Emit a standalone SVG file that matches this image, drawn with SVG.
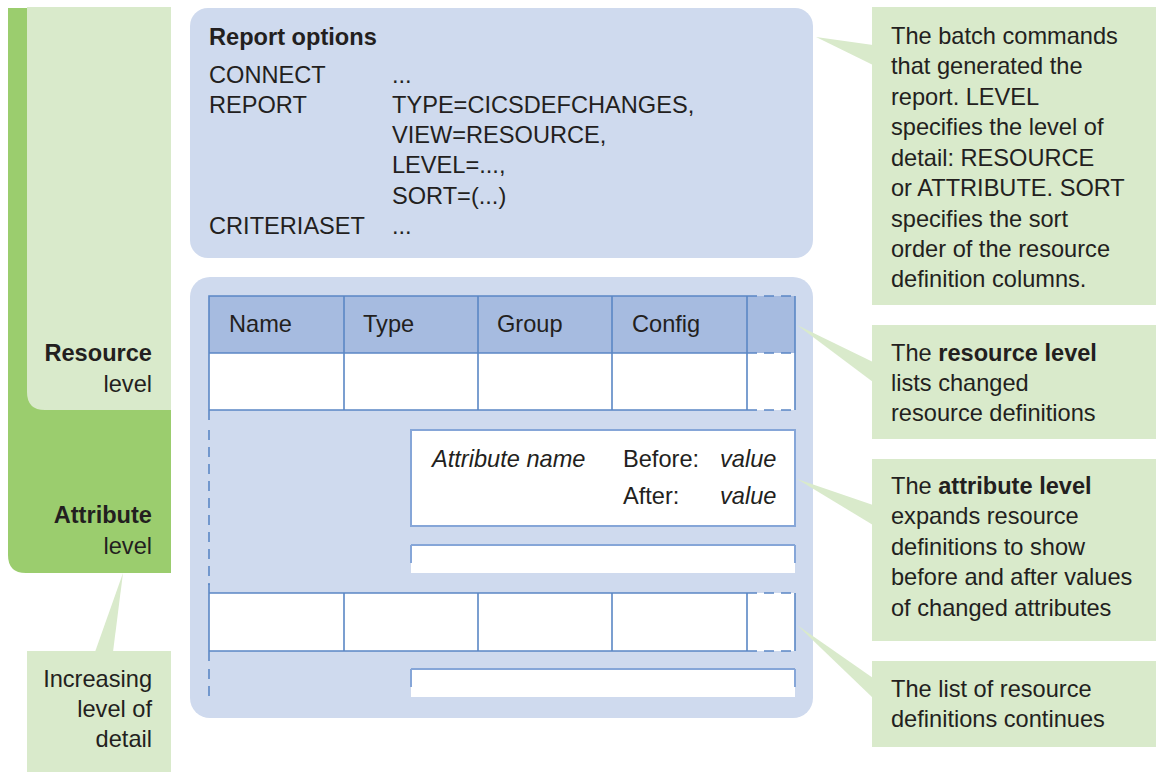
<svg xmlns="http://www.w3.org/2000/svg" width="1156" height="772" viewBox="0 0 1156 772">
<style>
text{font-family:"Liberation Sans",Arial,sans-serif;font-size:23.6px;fill:#231f20}
.b{font-weight:bold}
.i{font-style:italic}
.e{text-anchor:end}
.lg{fill:#d9eacb}
.dg{fill:#9bcd6e}
.pan{fill:#cfdaee}
.hdr{fill:#a6bbe0}
.ln{stroke:#5b87c5;stroke-width:1.6;fill:none}
.dash{stroke:#5b87c5;stroke-width:1.6;fill:none;stroke-dasharray:10 7}
.box{fill:#fff;stroke:#86a6d8;stroke-width:2}
</style>
<rect width="1156" height="772" fill="#fff"/>

<g id="levels">
<path class="dg" d="M8 8 H171 V573 H26 Q8 573 8 555 Z"/>
<path class="lg" d="M27 7 H171 V410 H45 Q27 410 27 392 Z"/>
<text class="b e" x="152" y="361">Resource</text>
<text class="e" x="152" y="392">level</text>
<text class="b e" x="152" y="523">Attribute</text>
<text class="e" x="152" y="554">level</text>
</g>

<g id="increasing">
<rect class="lg" x="27" y="651" width="144" height="121"/>
<polygon class="lg" points="95,652 113,652 123,573"/>
<text class="e" x="152" y="687">Increasing</text>
<text class="e" x="152" y="717">level of</text>
<text class="e" x="152" y="747">detail</text>
</g>

<g id="report-options">
<rect class="pan" x="190" y="8" width="623" height="250" rx="18"/>
<text class="b" x="209" y="45">Report options</text>
<text x="209" y="83">CONNECT</text>
<text x="392" y="83">...</text>
<text x="209" y="113">REPORT</text>
<text x="392" y="113">TYPE=CICSDEFCHANGES,</text>
<text x="392" y="143">VIEW=RESOURCE,</text>
<text x="392" y="173">LEVEL=...,</text>
<text x="392" y="204">SORT=(...)</text>
<text x="209" y="234">CRITERIASET</text>
<text x="392" y="234">...</text>
</g>

<g id="report-table">
<rect class="pan" x="190" y="277" width="623" height="441" rx="20"/>
<!-- header -->
<rect class="hdr" x="209" y="296" width="586" height="57"/>
<rect x="209" y="353" width="586" height="57" fill="#fff"/>
<path class="ln" d="M747 296 H209 V420 M209 353 H747 M209 410 H747 M344 296 V410 M478 296 V410 M612 296 V410 M747 296 V410 M795 296 V410"/>
<path class="dash" d="M747 296 H795 M747 353 H795 M747 410 H795"/>
<text x="229" y="332">Name</text>
<text x="363" y="332">Type</text>
<text x="497" y="332">Group</text>
<text x="632" y="332">Config</text>
<path class="dash" d="M209 430 V585"/>
<!-- attribute box -->
<rect class="box" x="411" y="430" width="384" height="96"/>
<text class="i" x="432" y="467">Attribute name</text>
<text x="623" y="467">Before:</text>
<text class="i" x="720" y="467">value</text>
<text x="623" y="504">After:</text>
<text class="i" x="720" y="504">value</text>
<rect x="411" y="545" width="384" height="28" fill="#fff"/>
<path d="M411 545 H795" stroke="#86a6d8" stroke-width="2" fill="none"/>
<path d="M411 545 V563 M795 545 V563" stroke="#86a6d8" stroke-width="2" fill="none"/>
<!-- row 2 -->
<rect x="209" y="593" width="586" height="58" fill="#fff"/>
<path class="ln" d="M209 584 V661 M209 593 H747 M209 651 H747 M344 593 V651 M478 593 V651 M612 593 V651 M747 593 V651 M795 593 V651"/>
<path class="dash" d="M747 593 H795 M747 651 H795"/>
<path class="dash" d="M209 669 V698"/>
<rect x="411" y="669" width="384" height="28" fill="#fff"/>
<path d="M411 669 H795" stroke="#86a6d8" stroke-width="2" fill="none"/>
<path d="M411 669 V687 M795 669 V687" stroke="#86a6d8" stroke-width="2" fill="none"/>
</g>

<g id="callout-commands">
<polygon class="lg" points="816,37 873,45 873,65"/>
<rect class="lg" x="872" y="7" width="284" height="298"/>
<text x="891" y="44">The batch commands</text>
<text x="891" y="74">that generated the</text>
<text x="891" y="105">report. LEVEL</text>
<text x="891" y="135">specifies the level of</text>
<text x="891" y="166">detail: RESOURCE</text>
<text x="891" y="196">or ATTRIBUTE. SORT</text>
<text x="891" y="227">specifies the sort</text>
<text x="891" y="257">order of the resource</text>
<text x="891" y="287">definition columns.</text>
</g>

<g id="callout-resource">
<polygon class="lg" points="797,325 873,362 873,382"/>
<rect class="lg" x="872" y="325" width="284" height="114"/>
<text x="891" y="361">The <tspan class="b">resource level</tspan></text>
<text x="891" y="391">lists changed</text>
<text x="891" y="421">resource definitions</text>
</g>

<g id="callout-attribute">
<polygon class="lg" points="797,479 873,505 873,525"/>
<rect class="lg" x="872" y="459" width="284" height="182"/>
<text x="891" y="494">The <tspan class="b">attribute level</tspan></text>
<text x="891" y="524">expands resource</text>
<text x="891" y="555">definitions to show</text>
<text x="891" y="585">before and after values</text>
<text x="891" y="616">of changed attributes</text>
</g>

<g id="callout-continues">
<polygon class="lg" points="797,625 873,678 873,698"/>
<rect class="lg" x="872" y="661" width="284" height="86"/>
<text x="891" y="697">The list of resource</text>
<text x="891" y="727">definitions continues</text>
</g>

<g id="connectors"></g>
</svg>
